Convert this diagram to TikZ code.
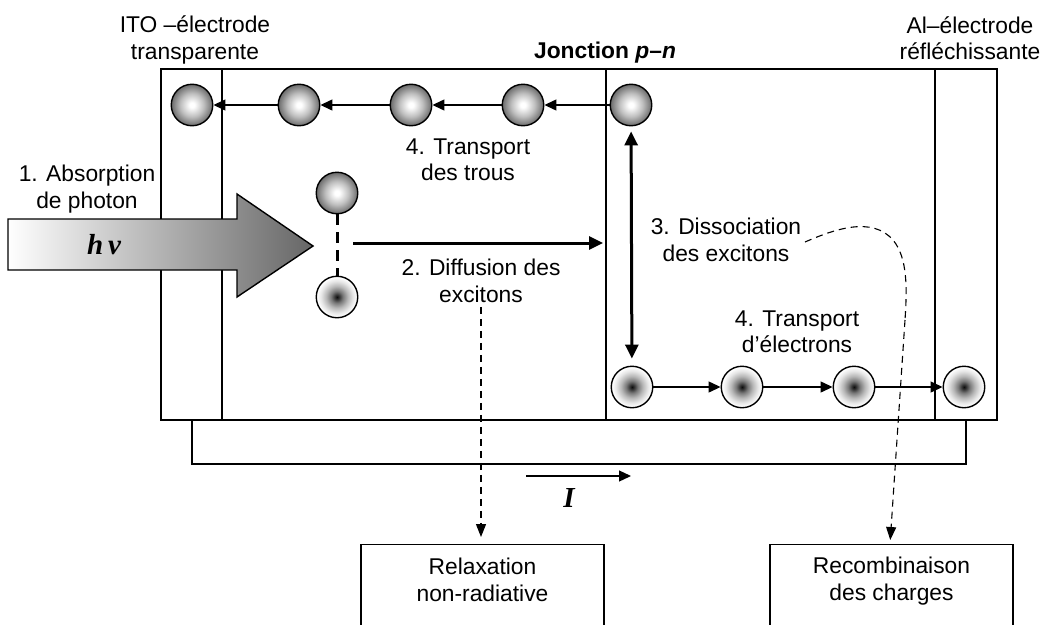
\documentclass[tikz,border=0pt]{standalone}
\usepackage{fontspec}
\setmainfont{Liberation Sans}
\newfontfamily\tnr{Liberation Serif}
\usetikzlibrary{arrows.meta}
\definecolor{holeedge}{gray}{0.42}
\definecolor{holemid}{gray}{0.75}
\definecolor{eleccore}{gray}{0.05}
\definecolor{elecdark}{gray}{0.22}
\definecolor{elecmid}{gray}{0.47}
\definecolor{eleclight}{gray}{0.72}
\definecolor{elecpale}{gray}{0.9}
\pgfdeclareradialshading{holeshade}{\pgfpoint{0bp}{0bp}}{color(0bp)=(white); color(3bp)=(white); color(14bp)=(holemid); color(25bp)=(holeedge); color(50bp)=(holeedge)}
\pgfdeclareradialshading{elecshade}{\pgfpoint{0bp}{0bp}}{color(0bp)=(eleccore); color(3bp)=(elecdark); color(7bp)=(elecmid); color(13bp)=(eleclight); color(19bp)=(elecpale); color(24bp)=(white); color(50bp)=(white)}
\tikzset{
  dev/.style={line width=1.4pt},
  hole/.style={circle, draw, line width=1.4pt, minimum size=41.5pt, inner sep=0pt, shading=holeshade},
  elec/.style={circle, draw, line width=1.4pt, minimum size=41.5pt, inner sep=0pt, shading=elecshade},
  harrow/.style={line width=1.3pt, -{Triangle[length=12pt,width=11pt]}},
  bigarrow/.style={line width=3pt, -{Triangle[length=14pt,width=13pt]}},
  dasharrow/.style={line width=1.1pt, dash pattern=on 7pt off 5pt, -{Triangle[length=13pt,width=10pt]}},
  txt/.style={align=center, font=\fontsize{22.8}{26.5}\selectfont, inner sep=0pt},
  outbox/.style={draw, line width=1.4pt, minimum width=243pt, minimum height=120pt, inner sep=0pt},
  serifbi/.style={font=\tnr\bfseries\itshape\fontsize{29}{30}\selectfont, inner sep=0pt}
}
\begin{document}
\begin{tikzpicture}[x=1pt,y=-1pt]
\useasboundingbox (0,0) rectangle (1044,624);
% device layers
\draw[dev] (161,69) rectangle (997,420);
\draw[dev] (222,69) -- (222,420);
\draw[dev] (606,69) -- (606,420);
\draw[dev] (935,69) -- (935,420);
% external circuit
\draw[dev] (192,420) -- (192,464) -- (966,464) -- (966,420);
\coordinate (i1) at (526,476);
\coordinate (i2) at (631,476);
\draw[harrow] (i1) -- (i2);
\node[serifbi] (cur) at (569,498) {I};
% photon arrow
\path[draw, line width=1.4pt, left color=white, right color=black!60]
  (8,219) -- (237,219) -- (237,194) -- (313,246) -- (237,297) -- (237,270) -- (8,270) -- cycle;
\node[serifbi] (hnu) at (104,245) {h\kern5ptν};
% labels
\node[txt] (ito) at (195,40) {ITO –électrode\\transparente};
\node[txt] (al) at (970,38) {Al–électrode\\réfléchissante};
\node[txt, font=\fontsize{22.8}{26.5}\selectfont\bfseries] (jonc) at (605,53) {Jonction \textit{p}–\textit{n}};
\node[txt] (abs) at (87,189) {1. Absorption\\de photon};
\node[txt] (trous) at (468,160) {4. Transport\\des trous};
\node[txt] (diff) at (481,281) {2. Diffusion des\\excitons};
\node[txt] (diss) at (726,240) {3. Dissociation\\des excitons};
\node[txt] (trel) at (797,332) {4. Transport\\d’électrons};
% holes
\node[hole] (h1) at (192,105) {};
\node[hole] (h2) at (299,105) {};
\node[hole] (h3) at (411,105) {};
\node[hole] (h4) at (523,105) {};
\node[hole] (h5) at (631,105) {};
\draw[harrow] (h5) -- (h4);
\draw[harrow] (h4) -- (h3);
\draw[harrow] (h3) -- (h2);
\draw[harrow] (h2) -- (h1);
% exciton
\node[hole] (hx) at (337,193) {};
\node[elec] (ex) at (337,297) {};
\draw[line width=3pt, dash pattern=on 11pt off 7pt] (hx) -- (ex);
\coordinate (d1) at (353,243);
\coordinate (d2) at (603,243);
\draw[bigarrow] (d1) -- (d2);
% electrons
\node[elec] (e1) at (632,387) {};
\node[elec] (e2) at (742,387) {};
\node[elec] (e3) at (854,387) {};
\node[elec] (e4) at (964,387) {};
\draw[harrow] (e1) -- (e2);
\draw[harrow] (e2) -- (e3);
\draw[harrow] (e3) -- (e4);
% dissociation arrow
\draw[line width=3pt, {Triangle[length=14pt,width=13pt]}-{Triangle[length=14pt,width=13pt]}, shorten <=5pt, shorten >=7pt] (h5) -- (e1);
% loss boxes
\node[outbox, anchor=north] (relax) at (482.5,544) {};
\node[txt] (relaxt) at (482.5,580) {Relaxation\\non-radiative};
\node[outbox, anchor=north] (rec) at (891.5,544) {};
\node[txt] (rect) at (891.5,581) {Recombinaison\\des charges};
% loss paths
\draw[dasharrow, shorten <=4pt, shorten >=7pt] (diff.south) -- (diff.south |- relax.north);
\coordinate (c0) at (805,242);
\coordinate (c1) at (905,320);
\coordinate (rx) at (890,0);
\draw[line width=1.1pt, dash pattern=on 7pt off 5pt]
  (c0) .. controls (835,229) and (872,216) .. (893,240)
  .. controls (908,258) and (907,290) .. (c1);
\draw[dasharrow, shorten >=4pt] (c1) -- (rec.north -| rx);
\end{tikzpicture}
\end{document}
